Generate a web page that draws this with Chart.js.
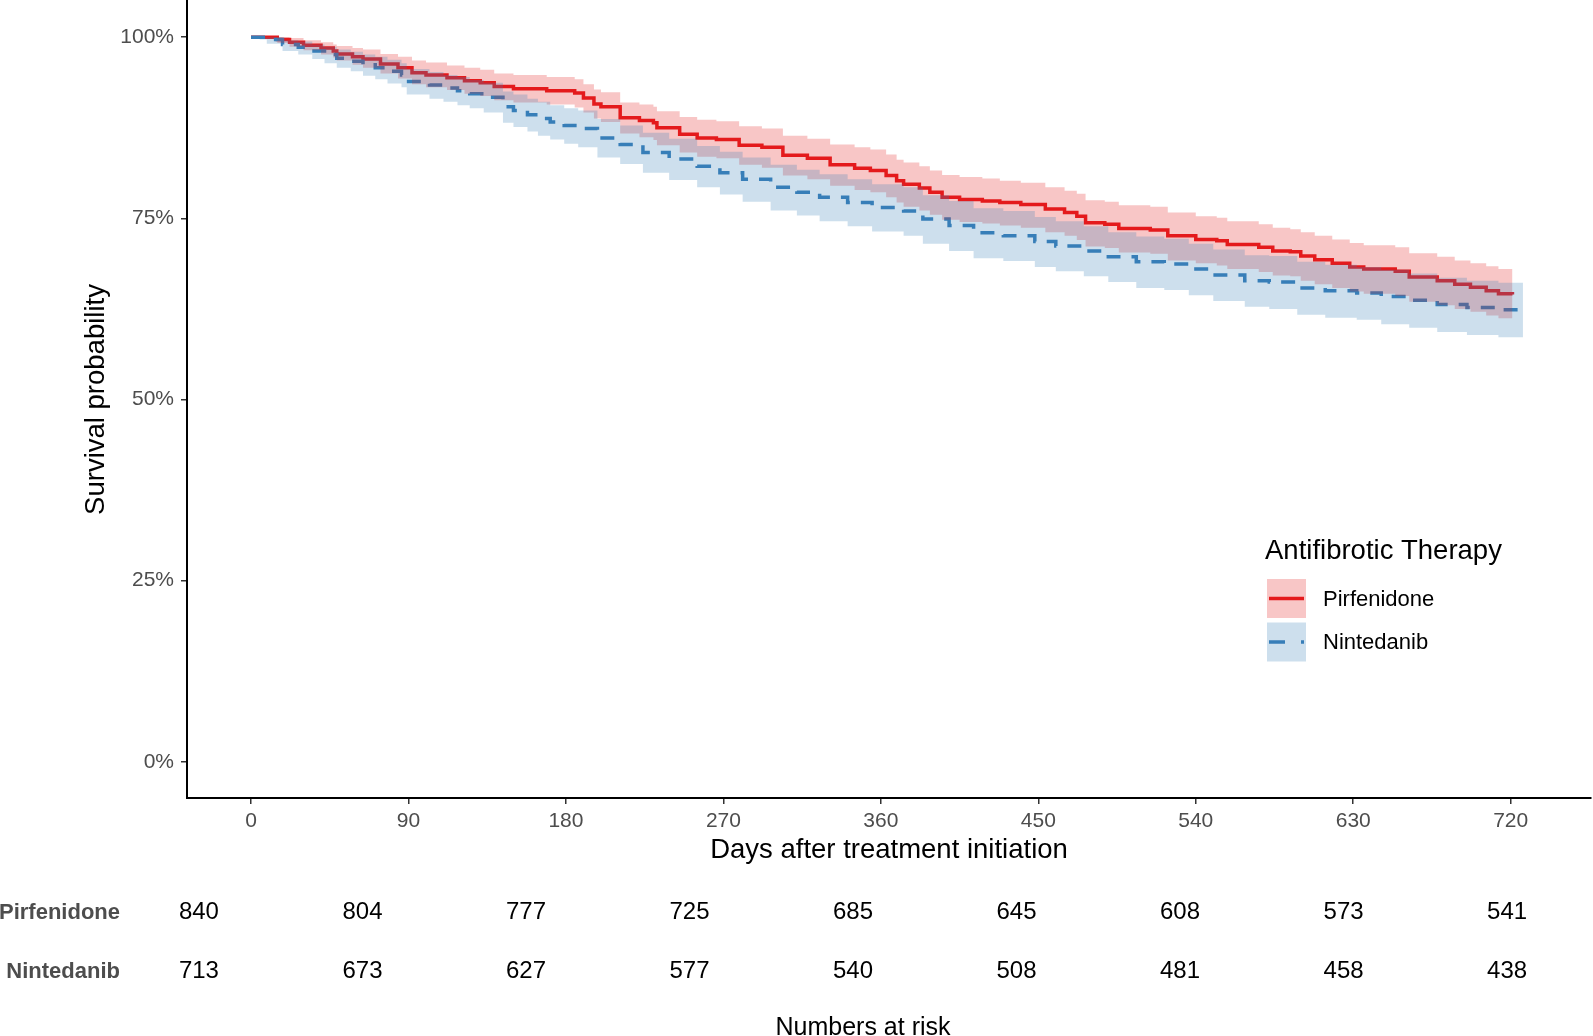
<!DOCTYPE html>
<html>
<head>
<meta charset="utf-8">
<script src="https://cdn.jsdelivr.net/npm/chart.js@4.4.1/dist/chart.umd.min.js"></script>
<style>
  html, body { margin: 0; padding: 0; background: #ffffff; width: 1593px; height: 1036px; overflow: hidden; }
  #main { position: absolute; left: 0; top: 0; }
  #risk { position: absolute; left: 0; top: 883px; }
</style>
</head>
<body>
<canvas id="main" width="1593" height="880" style="width:1593px;height:880px"></canvas>
<canvas id="risk" width="1593" height="153" style="width:1593px;height:153px"></canvas>
<script>
// ---------------- DATA ----------------
const seriesNames = ['Pirfenidone', 'Nintedanib'];
const legendTitle = 'Antifibrotic Therapy';
const xTitle = 'Days after treatment initiation';
const yTitle = 'Survival probability';
const riskTitle = 'Numbers at risk';

const xTicks = [0, 90, 180, 270, 360, 450, 540, 630, 720];
const yTicks = [0, 25, 50, 75, 100];

// Pirfenidone Kaplan-Meier estimate (days, survival %) with confidence band
const pirfTime = [0, 12, 15, 22, 30, 40, 47, 49, 58, 64,
  74, 84, 92, 100, 112, 122, 131, 139, 150, 169,
  185, 190, 196, 200, 211, 222, 230, 232, 245, 255,
  266, 279, 292, 304, 318, 331, 345, 354, 363, 369,
  373, 382, 388, 395, 405, 418, 428, 440, 454, 465,
  472, 477, 488, 496, 514, 524, 540, 552, 558, 576,
  584, 594, 600, 608, 618, 628, 636, 654, 662, 678,
  688, 697, 706, 713, 721];
const pirfSurv = [100, 100, 99.7, 99.3, 98.9, 98.5, 98.1, 97.7, 97.3, 97.0,
  96.3, 95.8, 95.1, 94.8, 94.4, 94.0, 93.7, 93.2, 92.9, 92.6,
  92.3, 91.6, 90.8, 90.4, 88.9, 88.5, 88.2, 87.5, 86.6, 86.1,
  85.9, 85.1, 84.8, 83.7, 83.3, 82.4, 81.9, 81.6, 80.9, 80.2,
  79.7, 79.2, 78.6, 77.9, 77.6, 77.4, 77.2, 76.9, 76.3, 75.8,
  75.3, 74.4, 74.2, 73.6, 73.4, 72.6, 72.1, 71.9, 71.4, 71.0,
  70.5, 70.4, 69.8, 69.3, 68.8, 68.3, 68.0, 67.7, 66.9, 66.4,
  65.9, 65.5, 65.0, 64.6, 64.5];
const pirfUpper = [100, 100, 100, 99.9, 99.6, 99.3, 99.0, 98.8, 98.5, 98.3,
  97.7, 97.3, 96.8, 96.5, 96.1, 95.8, 95.5, 95.0, 94.8, 94.5,
  94.2, 93.5, 92.8, 92.4, 91.0, 90.7, 90.4, 89.8, 89.0, 88.6,
  88.4, 87.7, 87.4, 86.4, 86.0, 85.2, 84.8, 84.5, 83.8, 83.1,
  82.7, 82.2, 81.6, 81.0, 80.7, 80.5, 80.2, 79.9, 79.3, 78.8,
  78.4, 77.5, 77.3, 76.8, 76.6, 75.8, 75.3, 75.1, 74.6, 74.2,
  73.7, 73.5, 73.1, 72.6, 72.1, 71.6, 71.3, 71.0, 70.2, 69.7,
  69.2, 68.8, 68.4, 68.0, 67.9];
const pirfLower = [100, 100, 99.2, 98.7, 98.2, 97.6, 97.2, 96.8, 96.2, 95.8,
  95.0, 94.3, 93.5, 93.1, 92.7, 92.2, 91.9, 91.3, 91.0, 90.7,
  90.3, 89.6, 88.8, 88.3, 86.7, 86.2, 85.8, 85.1, 84.1, 83.5,
  83.3, 82.4, 82.0, 80.9, 80.4, 79.5, 78.9, 78.6, 77.9, 77.2,
  76.6, 76.1, 75.5, 74.8, 74.5, 74.3, 74.0, 73.7, 73.1, 72.6,
  72.0, 71.1, 70.9, 70.3, 70.1, 69.2, 68.8, 68.5, 68.0, 67.6,
  67.1, 67.0, 66.4, 65.9, 65.4, 64.9, 64.6, 64.3, 63.5, 63.0,
  62.5, 62.1, 61.6, 61.2, 61.1];

// Nintedanib Kaplan-Meier estimate (days, survival %) with confidence band
const nintTime = [0, 5, 9, 18, 27, 35, 42, 49, 57, 64,
  71, 78, 86, 89, 102, 110, 118, 125, 133, 144,
  150, 158, 164, 171, 179, 187, 198, 211, 224, 239,
  255, 268, 281, 297, 312, 325, 341, 355, 373, 384,
  399, 413, 430, 448, 460, 476, 490, 506, 522, 536,
  550, 568, 582, 598, 614, 632, 646, 662, 678, 695,
  713, 727];
const nintSurv = [100, 100, 99.7, 99.0, 98.6, 98.1, 97.6, 97.1, 96.7, 96.2,
  95.8, 95.3, 94.8, 93.9, 93.4, 93.0, 92.6, 92.2, 91.7, 90.4,
  89.9, 89.3, 88.8, 88.3, 87.8, 87.4, 86.1, 85.2, 84.1, 83.2,
  82.2, 81.3, 80.4, 79.3, 78.6, 77.9, 77.2, 76.5, 76.0, 74.9,
  74.0, 73.0, 72.6, 71.8, 71.2, 70.5, 69.7, 69.0, 68.7, 68.0,
  67.2, 66.4, 66.2, 65.4, 65.0, 64.7, 64.2, 63.7, 63.1, 62.7,
  62.4, 62.4];
const nintUpper = [100, 100, 100, 99.6, 99.4, 99.0, 98.7, 98.3, 98.0, 97.6,
  97.3, 96.9, 96.4, 95.6, 95.2, 94.8, 94.5, 94.1, 93.7, 92.5,
  92.1, 91.5, 91.1, 90.6, 90.2, 89.9, 88.7, 87.8, 86.8, 86.0,
  85.0, 84.2, 83.4, 82.4, 81.7, 81.1, 80.4, 79.7, 79.3, 78.2,
  77.4, 76.4, 76.0, 75.2, 74.6, 73.9, 73.1, 72.5, 72.2, 71.5,
  70.7, 69.9, 69.8, 69.0, 68.6, 68.3, 67.9, 67.4, 66.8, 66.4,
  66.1, 66.0];
const nintLower = [100, 99.7, 99.1, 98.1, 97.6, 97.0, 96.4, 95.8, 95.3, 94.7,
  94.2, 93.6, 93.1, 92.1, 91.5, 91.1, 90.6, 90.2, 89.6, 88.2,
  87.6, 87.0, 86.4, 85.9, 85.3, 84.8, 83.4, 82.5, 81.3, 80.3,
  79.3, 78.3, 77.3, 76.1, 75.4, 74.6, 73.9, 73.2, 72.6, 71.5,
  70.5, 69.5, 69.1, 68.3, 67.7, 67.0, 66.2, 65.4, 65.1, 64.4,
  63.6, 62.8, 62.5, 61.7, 61.3, 61.0, 60.4, 59.9, 59.3, 58.9,
  58.6, 58.6];

// Numbers at risk
const riskTimes = [0, 90, 180, 270, 360, 450, 540, 630, 720];
const pirfRisk = [840, 804, 777, 725, 685, 645, 608, 573, 541];
const nintRisk = [713, 673, 627, 577, 540, 508, 481, 458, 438];

// ---------------- STYLE ----------------
const FONT = '"Liberation Sans", Arial, Helvetica, sans-serif';
const RED = '#E41A1C';
const BLUE = '#377EB8';
const RED_FILL = 'rgba(228,26,28,0.25)';
const BLUE_FILL = 'rgba(55,126,184,0.25)';
const TICK_GREY = '#4D4D4D';
const X_MIN = -36.6, X_MAX = 765.9;
const RISK_X_MIN = -36.3, RISK_X_MAX = 767.3;

const pts = (xs, ys) => xs.map((x, i) => ({ x: x, y: ys[i] }));
const noPad = s => { s.paddingTop = 0; s.paddingBottom = 0; s.paddingLeft = 0; s.paddingRight = 0; };

// custom legend (ggplot style keys)
const legendEntries = [
  { label: seriesNames[0], color: RED, fill: RED_FILL, dash: [] },
  { label: seriesNames[1], color: BLUE, fill: BLUE_FILL, dash: [16, 16] }
];
const kmLegend = {
  id: 'kmLegend',
  afterDraw(chart) {
    const ctx = chart.ctx;
    ctx.save();
    ctx.textBaseline = 'middle';
    ctx.textAlign = 'left';
    ctx.fillStyle = '#000';
    ctx.font = '27.5px ' + FONT;
    ctx.fillText(legendTitle, 1265, 551);
    legendEntries.forEach((e, i) => {
      const top = 579 + i * 43.5;
      ctx.fillStyle = '#ffffff';
      ctx.fillRect(1267, top, 39, 39);
      ctx.fillStyle = e.fill;
      ctx.fillRect(1267, top, 39, 39);
      ctx.strokeStyle = e.color;
      ctx.lineWidth = 3.5;
      ctx.lineCap = 'butt';
      ctx.setLineDash(e.dash);
      ctx.beginPath();
      ctx.moveTo(1269, top + 19.5);
      ctx.lineTo(1304, top + 19.5);
      ctx.stroke();
      ctx.setLineDash([]);
      ctx.fillStyle = '#000';
      ctx.font = '22px ' + FONT;
      ctx.fillText(e.label, 1323, top + 20.5);
    });
    ctx.restore();
  }
};

// ---------------- MAIN CHART ----------------
new Chart(document.getElementById('main'), {
  type: 'line',
  data: {
    datasets: [
      { label: seriesNames[0], data: pts(pirfTime, pirfSurv), borderColor: RED, borderWidth: 3.5,
        stepped: 'before', pointRadius: 0, fill: false, order: 6, borderCapStyle: 'butt' },
      { label: seriesNames[1], data: pts(nintTime, nintSurv), borderColor: BLUE, borderWidth: 3.5,
        borderDash: [14, 11], stepped: 'before', pointRadius: 0, fill: false, order: 5, borderCapStyle: 'butt' },
      { label: seriesNames[0] + ' upper', data: pts(pirfTime, pirfUpper), borderWidth: 0, borderColor: 'rgba(0,0,0,0)',
        backgroundColor: RED_FILL, stepped: 'before', pointRadius: 0, fill: '+1', order: 4 },
      { label: seriesNames[0] + ' lower', data: pts(pirfTime, pirfLower), borderWidth: 0, borderColor: 'rgba(0,0,0,0)',
        stepped: 'before', pointRadius: 0, fill: false, order: 3 },
      { label: seriesNames[1] + ' upper', data: pts(nintTime, nintUpper), borderWidth: 0, borderColor: 'rgba(0,0,0,0)',
        backgroundColor: BLUE_FILL, stepped: 'before', pointRadius: 0, fill: '+1', order: 2 },
      { label: seriesNames[1] + ' lower', data: pts(nintTime, nintLower), borderWidth: 0, borderColor: 'rgba(0,0,0,0)',
        stepped: 'before', pointRadius: 0, fill: false, order: 1 }
    ]
  },
  options: {
    responsive: false,
    animation: false,
    devicePixelRatio: 1,
    layout: { padding: { left: 0, right: 2, top: 1, bottom: 0 } },
    plugins: {
      legend: { display: false },
      tooltip: { enabled: false },
      filler: { drawTime: 'beforeDatasetDraw', propagate: false }
    },
    scales: {
      x: {
        type: 'linear', min: X_MIN, max: X_MAX,
        afterBuildTicks: s => { s.ticks = xTicks.map(v => ({ value: v })); },
        afterFit: s => { s.height = 82; noPad(s); },
        ticks: { color: TICK_GREY, font: { family: FONT, size: 21 }, padding: 5, maxRotation: 0, autoSkip: false,
                 callback: v => String(v) },
        grid: { drawOnChartArea: false, drawTicks: true, tickLength: 6, color: '#333333', lineWidth: 1.5 },
        border: { display: true, color: '#000000', width: 2 },
        title: { display: true, text: xTitle, color: '#000000', font: { family: FONT, size: 27.5 },
                 padding: { top: 0, bottom: 13.5 } }
      },
      y: {
        type: 'linear', min: -5, max: 105,
        afterBuildTicks: s => { s.ticks = yTicks.map(v => ({ value: v })); },
        afterFit: s => { s.width = 187; noPad(s); },
        ticks: { color: TICK_GREY, font: { family: FONT, size: 21 }, padding: 7, callback: v => v + '%' },
        grid: { drawOnChartArea: false, drawTicks: true, tickLength: 6, color: '#333333', lineWidth: 1.5 },
        border: { display: true, color: '#000000', width: 2 },
        title: { display: true, text: yTitle, color: '#000000', font: { family: FONT, size: 27.5 },
                 padding: { top: 79.5, bottom: 0 } }
      }
    }
  },
  plugins: [kmLegend]
});

// ---------------- RISK TABLE ----------------
const riskLabels = {
  id: 'riskLabels',
  afterDatasetsDraw(chart) {
    const ctx = chart.ctx;
    ctx.save();
    ctx.font = '24px ' + FONT;
    ctx.fillStyle = '#000000';
    ctx.textAlign = 'center';
    ctx.textBaseline = 'middle';
    chart.data.datasets.forEach((ds, di) => {
      const meta = chart.getDatasetMeta(di);
      meta.data.forEach((el, i) => {
        ctx.fillText(String(ds.data[i].n), el.x, el.y);
      });
    });
    ctx.restore();
  }
};

new Chart(document.getElementById('risk'), {
  type: 'scatter',
  data: {
    datasets: [
      { label: seriesNames[0], data: riskTimes.map((t, i) => ({ x: t, y: seriesNames[0], n: pirfRisk[i] })), pointRadius: 0 },
      { label: seriesNames[1], data: riskTimes.map((t, i) => ({ x: t, y: seriesNames[1], n: nintRisk[i] })), pointRadius: 0 }
    ]
  },
  options: {
    responsive: false,
    animation: false,
    devicePixelRatio: 1,
    layout: { padding: { left: 0, right: 0, top: 0, bottom: 0 } },
    plugins: { legend: { display: false }, tooltip: { enabled: false } },
    scales: {
      x: {
        type: 'linear', min: RISK_X_MIN, max: RISK_X_MAX,
        afterFit: s => { s.height = 35; noPad(s); },
        ticks: { display: false },
        grid: { display: false, drawTicks: false },
        border: { display: false },
        title: { display: true, text: riskTitle, color: '#000000', font: { family: FONT, size: 25, lineHeight: 0.64 },
                 padding: 0 }
      },
      y: {
        type: 'category', labels: seriesNames, offset: true,
        afterFit: s => { s.width = 133; noPad(s); },
        ticks: { color: TICK_GREY, font: { family: FONT, size: 22, weight: 'bold' }, padding: 13 },
        grid: { display: false, drawTicks: false },
        border: { display: false }
      }
    }
  },
  plugins: [riskLabels]
});
</script>
</body>
</html>
